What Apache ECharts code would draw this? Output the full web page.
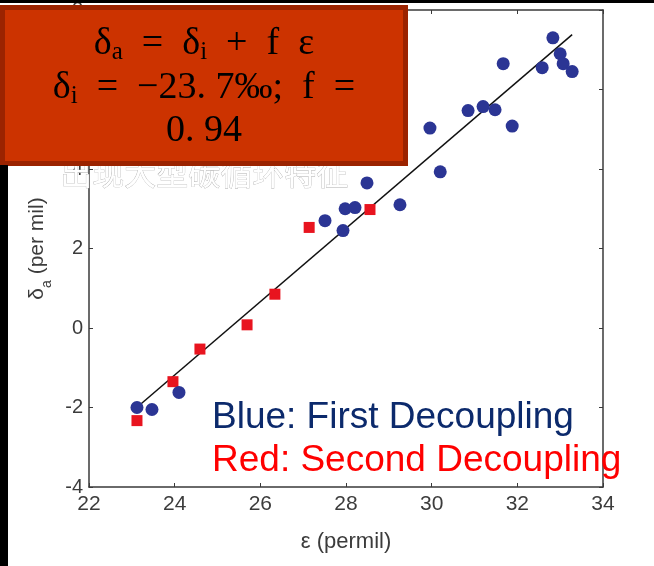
<!DOCTYPE html>
<html><head><meta charset="utf-8">
<script src="https://cdn.jsdelivr.net/npm/echarts@6/dist/echarts.min.js"></script>
<style>html,body{margin:0;padding:0;background:#fff}#c{width:654px;height:566px}</style>
</head><body><div id="c"></div>
<script>
// First decoupling (blue circles)
var blueX = [23.12, 23.47, 24.10, 27.51, 27.93, 27.98, 28.21, 28.49, 29.26, 30.20, 29.96, 30.85, 31.20, 31.48, 31.88, 31.67, 32.58, 32.83, 33.00, 33.07, 33.28];
var blueY = [-2.00, -2.05, -1.62, 2.70, 2.45, 3.00, 3.03, 3.65, 3.10, 3.93, 5.03, 5.47, 5.57, 5.49, 5.08, 6.65, 6.55, 7.30, 6.90, 6.65, 6.45];
// Second decoupling (red squares)
var redX = [23.12, 23.96, 24.59, 25.69, 26.34, 27.14, 28.56];
var redY = [-2.33, -1.35, -0.53, 0.08, 0.85, 2.53, 2.98];
// Fitted line endpoints
var fitX = [23.19, 33.28];
var fitY = [-1.93, 7.38];
var xTicks = {min: 22, max: 34, step: 2};
var yTicks = {min: -4, max: 8, step: 2};

function pairs(xs, ys){ return xs.map(function(x,i){return [x, ys[i]];}); }

var chart = echarts.init(document.getElementById('c'), null, {renderer:'canvas'});
var axisCol = '#3a3a3a';
var lblCol = '#3c3c3c';
var tickFont = 'Liberation Sans';
function xAx(pos, show){
  return {type:'value', min:xTicks.min, max:xTicks.max, interval:xTicks.step, position:pos,
    axisLine:{show:true, onZero:false, lineStyle:{color:axisCol, width:1.5}},
    axisTick:{show:true, inside:true, length:4, lineStyle:{color:axisCol}},
    axisLabel:{show:show, color:lblCol, fontSize:21, fontFamily:tickFont, margin:7},
    splitLine:{show:false},
    name: show ? 'ε (permil)' : '', nameLocation:'middle', nameGap:44,
    nameTextStyle:{color:lblCol, fontSize:22, fontFamily:tickFont}};
}
function yAx(pos, show){
  return {type:'value', min:yTicks.min, max:yTicks.max, interval:yTicks.step, position:pos,
    axisLine:{show:true, onZero:false, lineStyle:{color:axisCol, width:1.5}},
    axisTick:{show:true, inside:true, length:4, lineStyle:{color:axisCol}},
    axisLabel:{show:show, color:lblCol, fontSize:20, fontFamily:tickFont, margin:6},
    splitLine:{show:false},
    name: show ? '{d|δ}{s|a}{d| (per mil)}' : '', nameLocation:'middle', nameGap:34, nameRotate:90,
    nameTextStyle:{color:lblCol, fontSize:21, fontFamily:tickFont,
      rich:{d:{fontSize:21, color:lblCol, fontFamily:tickFont}, s:{fontSize:14, color:lblCol, verticalAlign:'bottom', padding:[0,0,-7,0], fontFamily:tickFont}}}};
}

var serif = 'Liberation Serif';
var richBox = {
  n:{fontSize:38, color:'#fff', fontFamily:serif},
  s:{fontSize:25, color:'#fff', fontFamily:serif, padding:[16,0,0,0]}
};

chart.setOption({
  animation:false,
  backgroundColor:'#fff',
  grid:{left:89, right:51, top:10, bottom:79},
  xAxis:[xAx('bottom', true), xAx('top', false)],
  yAxis:[yAx('left', true), yAx('right', false)],
  series:[
    {type:'line', data:pairs(fitX, fitY), symbol:'none', lineStyle:{color:'#111', width:1.5}, z:1},
    {type:'scatter', data:pairs(redX, redY), symbol:'rect', symbolSize:11, itemStyle:{color:'#e8141f', opacity:1}, z:3},
    {type:'scatter', data:pairs(blueX, blueY), symbol:'circle', symbolSize:13, itemStyle:{color:'#2b3594', opacity:1}, z:4}
  ],
  graphic:[
    {type:'text', z:90, left:60, top:156, style:{text:'出现大型碳循环特征', fill:'#fff', stroke:'#b0b0b0', lineWidth:0.7, font:'32px "Noto Sans CJK SC"'}},
    {type:'rect', z:100, shape:{x:2.5, y:7.5, width:403, height:156}, style:{fill:'#cc3300', stroke:'#9b2300', lineWidth:5}},
    {type:'text', z:101, style:{x:204, y:44, text:'{n|δ}{s|a}{n|  =  δ}{s|i}{n|  +  f  ε}', rich:richBox, align:'center', verticalAlign:'middle'}},
    {type:'text', z:101, style:{x:204, y:88, text:'{n|δ}{s|i}{n|  =  −23. 7‰;  f  =}', rich:richBox, align:'center', verticalAlign:'middle'}},
    {type:'text', z:101, style:{x:204, y:131, text:'{n|0. 94}', rich:richBox, align:'center', verticalAlign:'middle'}},
    {type:'rect', z:102, shape:{x:0, y:0, width:654, height:3}, style:{fill:'#000'}},
    {type:'rect', z:102, shape:{x:0, y:165, width:8, height:401}, style:{fill:'#000'}},
    {type:'text', z:101, style:{x:212, y:418, text:'Blue: First Decoupling', fill:'#0c2a6c', font:'37px "Liberation Sans"', verticalAlign:'middle'}},
    {type:'text', z:101, style:{x:212, y:461, text:'Red: Second Decoupling', fill:'#ff0000', font:'37px "Liberation Sans"', verticalAlign:'middle'}}
  ]
});
</script></body></html>
